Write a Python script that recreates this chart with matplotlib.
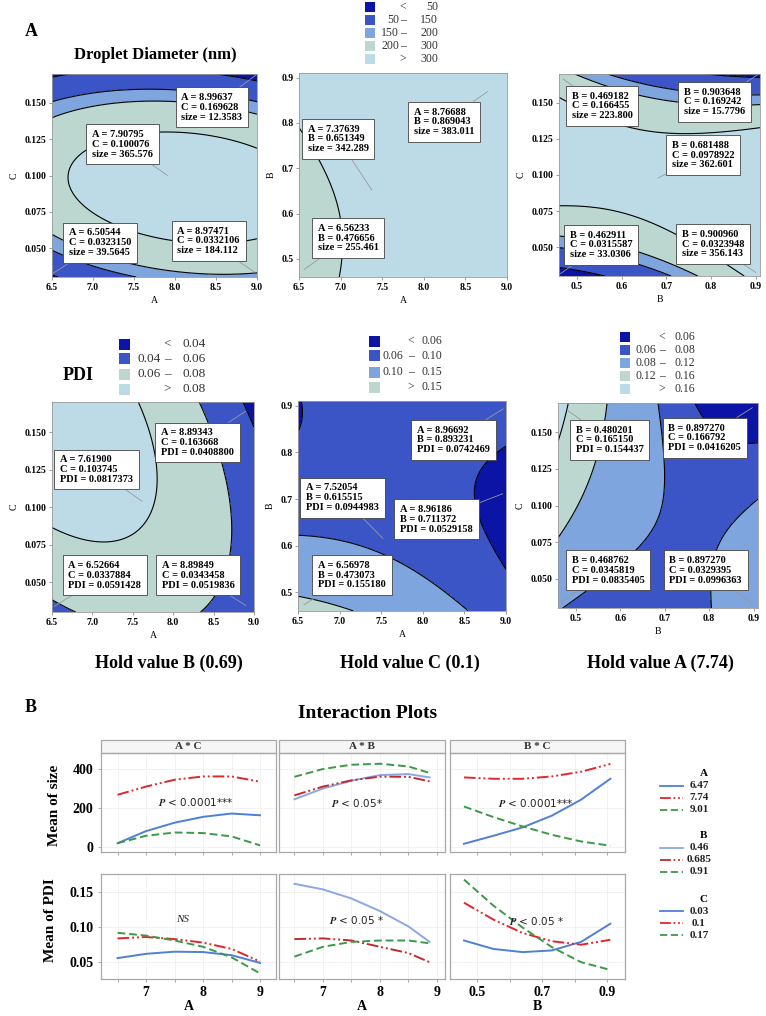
import numpy as np
import matplotlib
matplotlib.use("Agg")
import matplotlib.pyplot as plt
from matplotlib.patches import Rectangle
from matplotlib.lines import Line2D

plt.rcParams['font.family'] = ['Liberation Serif', 'DejaVu Serif']
plt.rcParams['font.weight'] = 'bold'
plt.rcParams['mathtext.fontset'] = 'stix'

# ---------------- data ----------------
# factor coding (centre, half range) used by the fitted quadratic models
A_code = (7.75, 1.25)
B_code = (0.685, 0.225)
C_code = (0.10, 0.07)
A_lim = (6.5, 9.0)
B_lim = (0.46, 0.91)
C_lim = (0.03, 0.17)

# response surface coefficients (coded units): b0, bx, by, bxx, byy, bxy
size_AC = [362.8, 30.25, -44.25, -52.5, -242.5, -41.75]
size_AB = [355.0, 32.5, 36.5, -57.5, 36.5, -22.0]
size_BC = [352.0, 34.5, -21.0, 39.5, -243.0, -134.0]
pdi_AC = [0.080, -0.0165, 0.00575, -0.0125, -0.00975, -0.0128]
pdi_AB = [0.077, -0.0165, -0.026, -0.0105, 0.029, 0.027]
pdi_BC = [0.081, -0.0265, 0.007, 0.0275, -0.008, -0.038]

# contour class limits and legend bins
size_levels = [50, 150, 200, 300]
pdi_AC_levels = [0.04, 0.06, 0.08]
pdi_AB_levels = [0.06, 0.10, 0.15]
pdi_BC_levels = [0.06, 0.08, 0.12, 0.16]
size_bins = [('<', '50'), ('50', '150'), ('150', '200'), ('200', '300'), ('>', '300')]
pdi_AC_bins = [('<', '0.04'), ('0.04', '0.06'), ('0.06', '0.08'), ('>', '0.08')]
pdi_AB_bins = [('<', '0.06'), ('0.06', '0.10'), ('0.10', '0.15'), ('>', '0.15')]
pdi_BC_bins = [('<', '0.06'), ('0.06', '0.08'), ('0.08', '0.12'), ('0.12', '0.16'), ('>', '0.16')]

# flagged points (x, y, response)
size_AC_pts = [('8.99637', '0.169628', '12.3583'), ('7.90795', '0.100076', '365.576'),
               ('6.50544', '0.0323150', '39.5645'), ('8.97471', '0.0332106', '184.112')]
size_AB_pts = [('7.37639', '0.651349', '342.289'), ('8.76688', '0.869043', '383.011'),
               ('6.56233', '0.476656', '255.461')]
size_BC_pts = [('0.469182', '0.166455', '223.800'), ('0.903648', '0.169242', '15.7796'),
               ('0.681488', '0.0978922', '362.601'), ('0.462911', '0.0315587', '33.0306'),
               ('0.900960', '0.0323948', '356.143')]
pdi_AC_pts = [('8.89343', '0.163668', '0.0408800'), ('7.61900', '0.103745', '0.0817373'),
              ('6.52664', '0.0337884', '0.0591428'), ('8.89849', '0.0343458', '0.0519836')]
pdi_AB_pts = [('8.96692', '0.893231', '0.0742469'), ('7.52054', '0.615515', '0.0944983'),
              ('8.96186', '0.711372', '0.0529158'), ('6.56978', '0.473073', '0.155180')]
pdi_BC_pts = [('0.480201', '0.165150', '0.154437'), ('0.897270', '0.166792', '0.0416205'),
              ('0.468762', '0.0345819', '0.0835405'), ('0.897270', '0.0329395', '0.0996363')]

# interaction plots
xA = [6.5, 7.0, 7.5, 8.0, 8.5, 9.0]
xA_ab = [6.5, 7.0, 7.5, 8.0, 8.5, 8.87]
xB = [0.46, 0.55, 0.64, 0.73, 0.82, 0.91]
A_levels = ['6.47', '7.74', '9.01']
B_levels = ['0.46', '0.685', '0.91']
C_levels = ['0.03', '0.1', '0.17']

size_AC_lo = [20, 82, 125, 155, 172, 163]
size_AC_mid = [268, 310, 345, 362, 362, 335]
size_AC_hi = [20, 58, 75, 72, 55, 9]
size_AB_lo = [245, 300, 340, 369, 374, 357]
size_AB_mid = [265, 310, 342, 361, 360, 337]
size_AB_hi = [360, 400, 422, 427, 413, 380]
size_BC_lo = [17, 58, 101, 161, 243, 350]
size_BC_mid = [357, 350, 350, 362, 386, 426]
size_BC_hi = [208, 154, 106, 63, 29, 7]

pdi_AC_lo = [0.0558, 0.062, 0.065, 0.0645, 0.060, 0.049]
pdi_AC_mid = [0.084, 0.086, 0.083, 0.078, 0.069, 0.051]
pdi_AC_hi = [0.092, 0.088, 0.081, 0.072, 0.057, 0.034]
pdi_AB_lo = [0.162, 0.154, 0.141, 0.123, 0.101, 0.079]
pdi_AB_mid = [0.083, 0.084, 0.081, 0.072, 0.063, 0.050]
pdi_AB_hi = [0.058, 0.072, 0.079, 0.081, 0.081, 0.077]
pdi_BC_lo = [0.081, 0.069, 0.0644, 0.0668, 0.079, 0.105]
pdi_BC_mid = [0.135, 0.111, 0.0918, 0.080, 0.075, 0.082]
pdi_BC_hi = [0.168, 0.131, 0.0995, 0.0716, 0.050, 0.039]

# ---------------- style ----------------
DARK = '#0b14a4'
ROYAL = '#3c55c6'
CORN = '#7ea5de'
PALEG = '#bcd6d0'
LIGHTB = '#bcdbe7'
BLUE = '#4f7fd6'
BLUE2 = '#8aa8e6'
RED = '#e3262b'
RED2 = '#c02a2c'
GREEN = '#3a9a45'
DASHDOT = (0, (6, 1.5, 1, 1.5, 1, 1.5))
DASH = (0, (4, 2))

W, H = 766, 1016
fig = plt.figure(figsize=(W / 100, H / 100), dpi=100)


def fx(x):
    return x / W


def fy(y):
    return 1 - y / H


def px_axes(l, t, r, b):
    return fig.add_axes([l / W, 1 - b / H, (r - l) / W, (b - t) / H])


def contour_panel(rect, coef, names, lims, codes, levels, colors, pts, boxes,
                  resp, xticks, yticks, yfmt):
    ax = px_axes(*rect)
    xs = np.linspace(lims[0][0], lims[0][1], 300)
    ys = np.linspace(lims[1][0], lims[1][1], 300)
    X, Y = np.meshgrid(xs, ys)
    u = (X - codes[0][0]) / codes[0][1]
    v = (Y - codes[1][0]) / codes[1][1]
    b0, b1, b2, b11, b22, b12 = coef
    Z = b0 + b1 * u + b2 * v + b11 * u ** 2 + b22 * v ** 2 + b12 * u * v
    ax.contourf(X, Y, Z, levels=[-1e6] + levels + [1e6], colors=colors)
    ax.contour(X, Y, Z, levels=levels, colors='k', linewidths=0.8)
    ax.set_xlim(lims[0])
    ax.set_ylim(lims[1])
    for (sx, sy, sv), (bx, by) in zip(pts, boxes):
        txt = f"{names[0]} = {sx}\n{names[1]} = {sy}\n{resp} = {sv}"
        ax.annotate(txt, xy=(float(sx), float(sy)), xytext=(bx, by), ha='center',
                    va='center', multialignment='left', fontsize=7.5, linespacing=1.1,
                    bbox=dict(boxstyle='square,pad=0.55', fc='white', ec='#444', lw=0.6),
                    arrowprops=dict(arrowstyle='-', color='#9a9a9a', lw=0.6,
                                    shrinkA=0, shrinkB=0),
                    annotation_clip=False)
    ax.set_xticks(xticks)
    ax.set_yticks(yticks)
    ax.set_xticklabels([f"{t:.1f}" for t in xticks])
    ax.set_yticklabels([yfmt % t for t in yticks])
    ax.tick_params(labelsize=7, length=2, width=0.5, color='#777', pad=2)
    for s in ax.spines.values():
        s.set_color('#9a9a9a')
        s.set_linewidth(0.6)
    ax.set_xlabel(names[0], fontsize=7, labelpad=3)
    ax.set_ylabel(names[1], fontsize=7, labelpad=4)
    return ax


def legend_block(colors, bins, sw_x, rows_y, sym_x, lo_x, hi_x, fs, sw):
    for c, (lo, hi), y in zip(colors, bins, rows_y):
        fig.add_artist(Rectangle((fx(sw_x), fy(y + sw / 2)), sw / W, sw / H,
                                 transform=fig.transFigure, color=c, lw=0))
        if lo in ('<', '>'):
            fig.text(fx(sym_x), fy(y), lo, ha='center', va='center', fontsize=fs,
                     fontweight='normal', color='#333')
        else:
            fig.text(fx(lo_x), fy(y), lo, ha='right', va='center', fontsize=fs,
                     fontweight='normal', color='#333')
            fig.text(fx(sym_x), fy(y), '\u2013', ha='center', va='center', fontsize=fs,
                     fontweight='normal', color='#333')
        fig.text(fx(hi_x), fy(y), hi, ha='right', va='center', fontsize=fs,
                 fontweight='normal', color='#333')


A_ticks = [6.5, 7.0, 7.5, 8.0, 8.5, 9.0]
B_ticks = [0.5, 0.6, 0.7, 0.8, 0.9]
C_ticks = [0.050, 0.075, 0.100, 0.125, 0.150]
size_cols = [DARK, ROYAL, CORN, PALEG, LIGHTB]

# ---------------- panel A: contour plots ----------------
fig.text(fx(25), fy(32), 'A', fontsize=13, va='center', ha='left')
fig.text(fx(155), fy(55), 'Droplet Diameter (nm)', fontsize=12, ha='center', va='center')
legend_block(size_cols, size_bins, 365, [7, 20, 33, 46, 59], 403, 399, 438, 8.5, 10)

contour_panel((52, 74, 257, 277), size_AC, ('A', 'C'), (A_lim, C_lim), (A_code, C_code),
              size_levels, size_cols, size_AC_pts,
              [(8.45, 0.147), (7.36, 0.1215), (7.09, 0.0537), (8.41, 0.055)],
              'size', A_ticks, C_ticks, '%.3f')
contour_panel((299, 73, 507, 277), size_AB, ('A', 'B'), (A_lim, B_lim), (A_code, B_code),
              size_levels, size_cols, size_AB_pts,
              [(6.97, 0.765), (8.245, 0.8025), (7.09, 0.546)],
              'size', A_ticks, B_ticks, '%.1f')
contour_panel((559, 74, 760, 276), size_BC, ('B', 'C'), (B_lim, C_lim), (B_code, C_code),
              size_levels, size_cols, size_BC_pts,
              [(0.557, 0.148), (0.808, 0.1506), (0.783, 0.1137), (0.555, 0.0515), (0.805, 0.052)],
              'size', B_ticks, C_ticks, '%.3f')

fig.text(fx(78), fy(376), 'PDI', fontsize=13, ha='center', va='center')
legend_block([DARK, ROYAL, PALEG, LIGHTB], pdi_AC_bins, 119, [344, 359, 374, 389],
             167, 161, 206, 9.5, 11)
legend_block([DARK, ROYAL, CORN, PALEG], pdi_AB_bins, 369, [341, 356, 372, 387],
             411, 403, 442, 8.5, 11)
legend_block([DARK, ROYAL, CORN, PALEG, LIGHTB], pdi_BC_bins, 620, [337, 350, 363, 376, 389],
             662, 656, 695, 8.5, 10)

contour_panel((52, 402, 254, 612), pdi_AC, ('A', 'C'), (A_lim, C_lim), (A_code, C_code),
              pdi_AC_levels, [DARK, ROYAL, PALEG, LIGHTB], pdi_AC_pts,
              [(8.30, 0.143), (7.05, 0.125), (7.155, 0.0544), (8.31, 0.0544)],
              'PDI', A_ticks, C_ticks, '%.3f')
contour_panel((298, 401, 506, 611), pdi_AB, ('A', 'B'), (A_lim, B_lim), (A_code, B_code),
              pdi_AB_levels, [DARK, ROYAL, CORN, PALEG], pdi_AB_pts,
              [(8.37, 0.8265), (7.035, 0.703), (8.165, 0.6565), (7.15, 0.537)],
              'PDI', A_ticks, B_ticks, '%.1f')
contour_panel((558, 403, 758, 608), pdi_BC, ('B', 'C'), (B_lim, C_lim), (B_code, C_code),
              pdi_BC_levels, [DARK, ROYAL, CORN, PALEG, LIGHTB], pdi_BC_pts,
              [(0.5765, 0.1448), (0.79, 0.1463), (0.573, 0.0557), (0.792, 0.0557)],
              'PDI', B_ticks, C_ticks, '%.3f')

for xc, txt in zip([169, 410, 660], ['Hold value B (0.69)', 'Hold value C (0.1)',
                                     'Hold value A (7.74)']):
    fig.text(fx(xc), fy(663), txt, fontsize=13, ha='center', va='center')

# ---------------- panel B: interaction plots ----------------
fig.text(fx(25), fy(707), 'B', fontsize=13, va='center', ha='left')
fig.text(fx(368), fy(713), 'Interaction Plots', fontsize=14, ha='center', va='center')

int_cols = [(BLUE, RED, GREEN), (BLUE2, RED2, GREEN), (BLUE, RED, GREEN)]
top_specs = [((101, 753, 276, 852), xA, (size_AC_lo, size_AC_mid, size_AC_hi), 'A * C'),
             ((279, 753, 445, 852), xA_ab, (size_AB_lo, size_AB_mid, size_AB_hi), 'A * B'),
             ((450, 753, 625, 852), xB, (size_BC_lo, size_BC_mid, size_BC_hi), 'B * C')]
bot_specs = [((101, 874, 276, 979), xA, (pdi_AC_lo, pdi_AC_mid, pdi_AC_hi)),
             ((279, 874, 445, 979), xA_ab, (pdi_AB_lo, pdi_AB_mid, pdi_AB_hi)),
             ((450, 874, 625, 979), xB, (pdi_BC_lo, pdi_BC_mid, pdi_BC_hi))]
xlims = [(6.21, 9.28), (6.23, 9.14), (0.417, 0.955)]
p_top = [(196, 802, r'$P$ < 0.0001***'), (357, 803, r'$P$ < 0.05*'),
         (536, 803, r'$P$ < 0.0001***')]
p_bot = [(183, 920, 'NS'), (357, 920, r'$P$ < 0.05 *'), (537, 921, r'$P$ < 0.05 *')]


def style_int(ax, k, show_x, show_y):
    ax.set_xlim(xlims[k])
    if k < 2:
        ax.set_xticks([7, 8, 9])
        ax.set_xticks(np.arange(6.5, 9.01, 0.5), minor=True)
    else:
        ax.set_xticks([0.5, 0.7, 0.9])
        ax.set_xticks(np.arange(0.5, 0.91, 0.1), minor=True)
    ax.grid(True, which='both', color='#ededed', lw=0.5)
    ax.set_axisbelow(True)
    ax.tick_params(which='both', length=2, width=0.5, color='#888', labelsize=10)
    ax.tick_params(axis='x', labelbottom=show_x, pad=3)
    ax.tick_params(axis='y', labelleft=show_y, left=show_y)
    for s in ax.spines.values():
        s.set_color('#a8a8a8')
        s.set_linewidth(0.9)


for k, (rect, xs, ys, strip) in enumerate(top_specs):
    ax = px_axes(*rect)
    for y, c, ls in zip(ys, int_cols[k], ['-', DASHDOT, DASH]):
        ax.plot(xs, y, color=c, ls=ls, lw=1.4)
    ax.set_ylim(-25, 482)
    ax.set_yticks([0, 200, 400])
    style_int(ax, k, False, k == 0)
    ax.add_patch(Rectangle((0, 1), 1, 13 / 99, transform=ax.transAxes, clip_on=False,
                           fc='#f6f6f6', ec='#a8a8a8', lw=0.9))
    ax.text(0.5, 1 + 6.5 / 99, strip, transform=ax.transAxes, ha='center', va='center',
            fontsize=8, color='#333')

for k, (rect, xs, ys) in enumerate(bot_specs):
    ax = px_axes(*rect)
    for y, c, ls in zip(ys, int_cols[k], ['-', DASHDOT, DASH]):
        ax.plot(xs, y, color=c, ls=ls, lw=1.4)
    ax.set_ylim(0.026, 0.176)
    ax.set_yticks([0.05, 0.10, 0.15])
    ax.set_yticklabels(['0.05', '0.10', '0.15'])
    style_int(ax, k, True, k == 0)
    fig.text(fx((rect[0] + rect[2]) / 2), fy(1006), 'B' if k == 2 else 'A',
             fontsize=10, ha='center', va='center')

for x, y, t in p_top + p_bot:
    if t == 'NS':
        fig.text(fx(x), fy(y), t, fontsize=8, style='italic', fontweight='normal',
                 ha='center', va='center', color='#222')
    else:
        fig.text(fx(x), fy(y), t, fontsize=7.5, family='DejaVu Sans', fontweight='normal',
                 ha='center', va='center', color='#222')

fig.text(fx(55), fy(805), 'Mean of size', rotation=90, fontsize=11, ha='center', va='center')
fig.text(fx(50), fy(920), 'Mean of PDI', rotation=90, fontsize=11, ha='center', va='center')

# legend of the interaction plots
leg_groups = [('A', A_levels, (BLUE, RED, GREEN), 774),
              ('B', B_levels, (BLUE2, RED2, GREEN), 836),
              ('C', C_levels, (BLUE, RED, GREEN), 899)]
for head, labs, cols, y0 in leg_groups:
    fig.text(fx(704), fy(y0), head, fontsize=8, ha='center', va='center')
    for i, (lab, c, ls) in enumerate(zip(labs, cols, ['-', DASHDOT, DASH])):
        yy = y0 + 12 + 12 * i
        fig.add_artist(Line2D([fx(660), fx(683)], [fy(yy), fy(yy)], color=c, ls=ls, lw=1.3,
                              transform=fig.transFigure))
        fig.text(fx(699), fy(yy), lab, fontsize=8, ha='center', va='center', color='#222')

fig.savefig('out.png', dpi=100)
